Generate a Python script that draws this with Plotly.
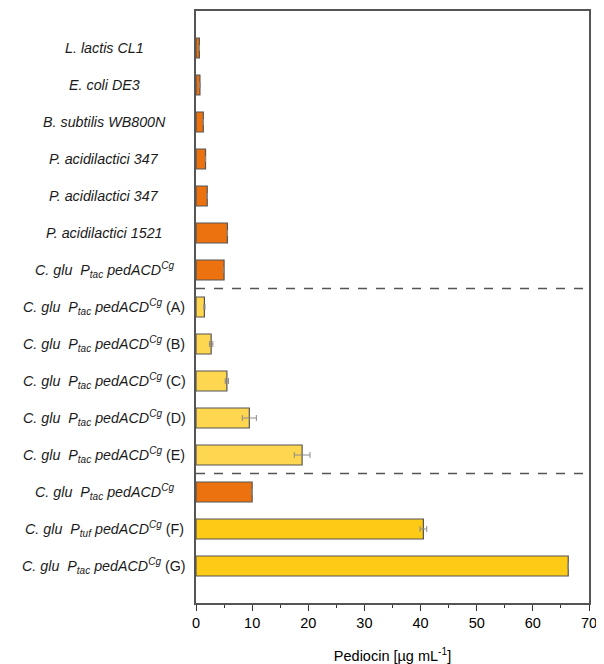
import plotly.graph_objects as go

# ---- data ----
strains = [
    "<i>L. lactis CL1</i>",
    "<i>E. coli DE3</i>",
    "<i>B. subtilis WB800N</i>",
    "<i>P. acidilactici 347</i>",
    "<i>P. acidilactici 347</i>",
    "<i>P. acidilactici 1521</i>",
    "<i>C. glu  P<sub>tac</sub> pedACD<sup>Cg</sup></i>",
    "<i>C. glu  P<sub>tac</sub> pedACD<sup>Cg</sup></i> (A)",
    "<i>C. glu  P<sub>tac</sub> pedACD<sup>Cg</sup></i> (B)",
    "<i>C. glu  P<sub>tac</sub> pedACD<sup>Cg</sup></i> (C)",
    "<i>C. glu  P<sub>tac</sub> pedACD<sup>Cg</sup></i> (D)",
    "<i>C. glu  P<sub>tac</sub> pedACD<sup>Cg</sup></i> (E)",
    "<i>C. glu  P<sub>tac</sub> pedACD<sup>Cg</sup></i>",
    "<i>C. glu  P<sub>tuf</sub> pedACD<sup>Cg</sup></i> (F)",
    "<i>C. glu  P<sub>tac</sub> pedACD<sup>Cg</sup></i> (G)",
]
pediocin = [0.6, 0.7, 1.3, 1.7, 2.0, 5.6, 5.0, 1.5, 2.7, 5.5, 9.5, 18.9, 10.0, 40.5, 66.3]
errors = [0, 0, 0, 0, 0, 0, 0, 0.1, 0.3, 0.3, 1.25, 1.4, 0, 0.6, 0]
groups = ["ref", "ref", "ref", "ref", "ref", "ref", "ref",
          "opt", "opt", "opt", "opt", "opt",
          "ref", "best", "best"]
group_sizes = [7, 5, 3]
x_ticks = [0, 10, 20, 30, 40, 50, 60, 70]

group_colors = {"ref": "#EC720F", "opt": "#FFD650", "best": "#FDCA16"}
font_family = "Arial, Liberation Sans, sans-serif"

rows = list(range(len(strains)))

fig = go.Figure()
fig.add_trace(go.Bar(
    x=pediocin, y=rows, orientation="h",
    width=0.54,
    marker=dict(color=[group_colors[g] for g in groups],
                line=dict(color="#555555", width=1.2)),
    error_x=dict(type="data", array=errors, color="#8a8a8a",
                 thickness=1, width=3),
    showlegend=False,
))

# category labels (centered, as in the reference)
for i, lab in enumerate(strains):
    fig.add_annotation(x=-0.234, xref="paper", y=i, yref="y",
                       text=lab, showarrow=False, xanchor="center",
                       yanchor="middle",
                       font=dict(family=font_family, size=14.3, color="#1a1a1a"))

# dashed separators between groups
b = -0.5
for s in group_sizes[:-1]:
    b += s
    fig.add_shape(type="line", xref="paper", x0=0, x1=1, yref="y", y0=b, y1=b,
                  line=dict(color="#555555", width=1.5, dash="dash"))

fig.update_layout(
    width=596, height=656,
    margin=dict(l=188, r=15, t=2.5, b=61),
    plot_bgcolor="white", paper_bgcolor="white",
    font=dict(family=font_family, size=14, color="black"),
    bargap=0.46,
)
fig.update_xaxes(
    automargin=False,
    range=[0, 70], tickvals=x_ticks, ticks="outside", ticklen=6,
    tickwidth=1.2, tickcolor="#333333",
    showline=True, linecolor="#555555", linewidth=1.5, mirror=True,
    showgrid=False, zeroline=False,
    minor=dict(dtick=5, ticks="outside", ticklen=3, tickcolor="#333333", showgrid=False),
    tickfont=dict(size=14.5, color="black"),
    title=dict(text="Pediocin [µg mL<sup>-1</sup>]", standoff=24,
               font=dict(size=14.5, color="black")),
)
fig.update_yaxes(
    automargin=False,
    range=[len(strains), -1], showticklabels=False, ticks="",
    showline=True, linecolor="#555555", linewidth=1.5, mirror=True,
    showgrid=False, zeroline=False,
)

fig.write_html("out.html")
